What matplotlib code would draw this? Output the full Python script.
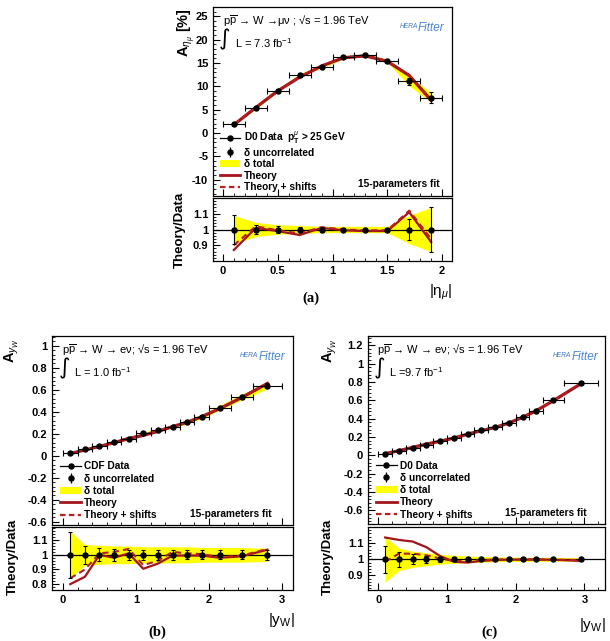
import numpy as np
import matplotlib
matplotlib.use("Agg")
import matplotlib.pyplot as plt
from matplotlib.lines import Line2D
from matplotlib.patches import Patch
from matplotlib.legend_handler import HandlerTuple
from matplotlib.ticker import MultipleLocator, AutoMinorLocator, FixedLocator

plt.rcParams['font.family'] = ['Liberation Sans', 'DejaVu Sans']
plt.rcParams['mathtext.fontset'] = 'custom'
plt.rcParams['mathtext.rm'] = 'Liberation Sans'
plt.rcParams['mathtext.it'] = 'Liberation Sans:italic'
plt.rcParams['mathtext.bf'] = 'Liberation Sans:bold'

# ---------------- data (a): D0 muon asymmetry ----------------
a_edges = [0.0, 0.2, 0.4, 0.6, 0.8, 1.0, 1.2, 1.4, 1.6, 1.8, 2.0]
a_x = [0.1, 0.3, 0.5, 0.7, 0.9, 1.1, 1.3, 1.5, 1.7, 1.9]
a_data = [2.0, 5.4, 9.1, 12.4, 14.2, 16.2, 16.7, 15.5, 11.1, 7.6]
a_theory = [0.87, 1.01, 0.99, 0.965, 1.01, 0.995, 0.99, 0.99, 1.11, 0.92]
a_shift = [0.90, 1.02, 0.995, 0.975, 1.015, 1.0, 0.995, 0.995, 1.12, 0.94]
a_unc = [0.09, 0.03, 0.02, 0.015, 0.015, 0.01, 0.01, 0.01, 0.065, 0.145]
a_tot = [0.09, 0.045, 0.03, 0.025, 0.02, 0.02, 0.02, 0.02, 0.09, 0.14]

# ---------------- data (b): CDF electron W asymmetry ----------------
b_edges = [0.0, 0.2, 0.4, 0.6, 0.8, 1.0, 1.2, 1.4, 1.6, 1.8, 2.0, 2.3, 2.6, 3.0]
b_x = [0.1, 0.3, 0.5, 0.7, 0.9, 1.1, 1.3, 1.5, 1.7, 1.9, 2.15, 2.45, 2.8]
b_data = [0.025, 0.062, 0.085, 0.122, 0.155, 0.205, 0.236, 0.266, 0.306, 0.357, 0.439, 0.536, 0.636]
b_theory = [0.80, 0.85, 1.0, 0.98, 1.01, 0.905, 0.94, 0.995, 0.995, 0.995, 0.98, 0.99, 1.035]
b_shift = [0.84, 0.90, 1.01, 1.02, 1.04, 0.93, 0.96, 1.02, 1.01, 1.005, 0.985, 0.995, 1.04]
b_unc = [0.155, 0.06, 0.045, 0.04, 0.035, 0.035, 0.035, 0.035, 0.03, 0.03, 0.03, 0.03, 0.035]
b_tot = [0.16, 0.07, 0.065, 0.06, 0.06, 0.055, 0.055, 0.055, 0.055, 0.05, 0.05, 0.05, 0.045]

# ---------------- data (c): D0 electron W asymmetry ----------------
c_edges = [0.0, 0.2, 0.4, 0.6, 0.8, 1.0, 1.2, 1.4, 1.6, 1.8, 2.0, 2.2, 2.4, 2.7, 3.2]
c_x = [0.1, 0.3, 0.5, 0.7, 0.9, 1.1, 1.3, 1.5, 1.7, 1.9, 2.1, 2.3, 2.55, 2.95]
c_data = [0.015, 0.044, 0.077, 0.113, 0.150, 0.190, 0.234, 0.271, 0.304, 0.352, 0.414, 0.487, 0.597, 0.788]
c_theory = [1.135, 1.12, 1.11, 1.075, 1.02, 0.985, 0.98, 0.99, 0.995, 0.998, 0.998, 0.998, 0.997, 0.99]
c_shift = [0.985, 1.035, 1.035, 1.025, 1.005, 0.99, 0.99, 0.995, 0.998, 1.0, 1.0, 1.0, 0.998, 0.995]
c_unc = [0.085, 0.045, 0.03, 0.02, 0.015, 0.012, 0.01, 0.008, 0.008, 0.007, 0.006, 0.006, 0.005, 0.005]
c_tot = [0.14, 0.07, 0.05, 0.04, 0.03, 0.025, 0.02, 0.018, 0.015, 0.014, 0.013, 0.012, 0.012, 0.01]

W, H = 610, 641
fig = plt.figure(figsize=(W / 100, H / 100), dpi=100)

RED = '#a3141c'
RED2 = '#b52020'
TICKFS = 8


def rect(l, t, r, b):
    return [l / W, 1 - b / H, (r - l) / W, (b - t) / H]


def style(ax, xmaj, xmin_n, ymaj, ymin_n, labels_x):
    ax.tick_params(direction='in', which='both', top=False, right=False,
                   labelsize=TICKFS)
    ax.tick_params(which='major', length=5, width=0.8)
    ax.tick_params(which='minor', length=2.5, width=0.6)
    ax.xaxis.set_major_locator(MultipleLocator(xmaj))
    ax.xaxis.set_minor_locator(AutoMinorLocator(xmin_n))
    ax.yaxis.set_major_locator(MultipleLocator(ymaj))
    ax.yaxis.set_minor_locator(AutoMinorLocator(ymin_n))
    if not labels_x:
        ax.tick_params(labelbottom=False)
    for s in ax.spines.values():
        s.set_linewidth(0.9)


def fmt(v, pos):
    return '%g' % v


def panel(main_r, ratio_r, xs, edges, data, th, sh, unc, tot, xlim, ylim, rylim,
          xmaj, xmin_n, ymaj, ymin_n, rticks, data_label, proc, lumi,
          letter, letter_xy, xl, xl_xy, yl, yl_xy, td_xy, leg_anchor, leg_sp, fit_xy):
    xs = np.array(xs); edges = np.array(edges); data = np.array(data)
    th = np.array(th); sh = np.array(sh); unc = np.array(unc); tot = np.array(tot)
    xlo = xs - edges[:-1]; xhi = edges[1:] - xs

    ax = fig.add_axes(rect(*main_r))
    ax.fill_between(xs, data * (1 - tot), data * (1 + tot), color='#ffff00', lw=0, zorder=1)
    ax.plot(xs, data * th, color=RED, lw=2.3, zorder=2)
    ax.plot(xs, data * sh, color=RED2, lw=1.5, ls=(0, (3, 2)), zorder=3)
    ax.errorbar(xs, data, xerr=[xlo, xhi], fmt='none', ecolor='k', elinewidth=0.8,
                capsize=0, zorder=4)
    ax.errorbar(xs, data, yerr=np.abs(data) * unc, fmt='o', color='k', ms=3.6,
                elinewidth=0.8, capsize=1.5, capthick=0.8, zorder=5)
    ax.errorbar(xs, data, xerr=[xlo, xhi], fmt='none', ecolor='k', elinewidth=0,
                capsize=2, capthick=0.8, zorder=4)
    ax.set_xlim(*xlim); ax.set_ylim(*ylim)
    style(ax, xmaj, xmin_n, ymaj, ymin_n, False)
    ax.yaxis.set_major_formatter(plt.FuncFormatter(fmt))
    for lab in ax.get_yticklabels():
        lab.set_fontweight('bold')

    # annotations
    ax.text(0.04, 0.97, proc, transform=ax.transAxes, fontsize=8, va='top', ha='left')
    ax.text(0.05, 0.83, '\u222b', transform=ax.transAxes, fontsize=16, va='center',
            ha='center', family=['DejaVu Sans'])
    ax.text(0.09, 0.81, lumi, transform=ax.transAxes, fontsize=8, va='center', ha='left')
    ax.text(0.78, 0.895, 'HERA', transform=ax.transAxes, fontsize=4.8, style='italic',
            color='#3f78c8', va='center', ha='left')
    ax.text(0.858, 0.89, 'Fitter', transform=ax.transAxes, fontsize=8.5, style='italic',
            color='#4a86d8', va='center', ha='left')
    ax.text(fit_xy[0], fit_xy[1], '15-parameters fit', transform=ax.transAxes,
            fontsize=7.3, fontweight='bold', ha='right', va='center')

    handles = [Line2D([], [], color='k', marker='o', ms=3.6, lw=0.9),
               (Line2D([], [], color='k', marker='|', ms=7, mew=0.9, ls='none'),
                Line2D([], [], color='k', marker='o', ms=3.6, ls='none')),
               Patch(facecolor='#ffff00', edgecolor='none'),
               Line2D([], [], color=RED, lw=2),
               Line2D([], [], color=RED2, lw=1.6, ls=(0, (2.5, 1.5)))]
    labels = [data_label, '\u03b4 uncorrelated', '\u03b4 total', 'Theory', 'Theory + shifts']
    ax.legend(handles, labels, loc='upper left', bbox_to_anchor=leg_anchor,
              frameon=False, handlelength=2.0, handletextpad=0.35,
              labelspacing=leg_sp, borderpad=0, borderaxespad=0,
              handler_map={tuple: HandlerTuple(ndivide=1)},
              prop={'weight': 'bold', 'size': 7.3})

    rx = fig.add_axes(rect(*ratio_r))
    rx.fill_between(xs, 1 - tot, 1 + tot, color='#ffff00', lw=0, zorder=1)
    rx.axhline(1.0, color='k', lw=0.9, zorder=2)
    rx.plot(xs, th, color=RED, lw=1.6, zorder=3)
    rx.plot(xs, sh, color=RED2, lw=1.5, ls=(0, (3, 2)), zorder=3)
    rx.errorbar(xs, np.ones_like(xs), yerr=unc, fmt='o', color='k', ms=3.6,
                elinewidth=0.8, capsize=1.5, capthick=0.8, zorder=5)
    rx.set_xlim(*xlim); rx.set_ylim(*rylim)
    style(rx, xmaj, xmin_n, 0.1, 5, True)
    rx.yaxis.set_major_locator(FixedLocator(rticks))
    rx.yaxis.set_minor_locator(MultipleLocator(0.02))
    rx.xaxis.set_major_formatter(plt.FuncFormatter(fmt))
    rx.yaxis.set_major_formatter(plt.FuncFormatter(fmt))
    for lab in rx.get_xticklabels() + rx.get_yticklabels():
        lab.set_fontweight('bold')

    fig.text(letter_xy[0] / W, 1 - letter_xy[1] / H, letter, fontsize=10.5,
             fontweight='bold', family=['Liberation Serif'], ha='center', va='center')
    fig.text(xl_xy[0] / W, 1 - xl_xy[1] / H, xl, fontsize=11, ha='center', va='center')
    fig.text(yl_xy[0] / W, 1 - yl_xy[1] / H, yl, fontsize=10.5, rotation=90,
             ha='center', va='top', fontweight='bold')
    fig.text(td_xy[0] / W, 1 - td_xy[1] / H, 'Theory/Data', fontsize=9.5, rotation=90,
             ha='center', va='center', fontweight='bold')


panel((213, 7, 452, 196), (213, 198, 452, 261), a_x, a_edges, a_data, a_theory,
      a_shift, a_unc, a_tot, (-0.09, 2.09), (-13.5, 27), (0.8, 1.2),
      0.5, 5, 5, 5, [0.9, 1.0, 1.1],
      'D0 Data  $\\mathbf{p}_\\mathbf{T}^{\\mu}$ > 25 GeV',
      'p$\\overline{\\mathrm{p}}$ \u2192 W \u2192\u03bc\u03bd ; \u221as = 1.96 TeV',
      'L = 7.3 fb$^{-1}$', '(a)', (311, 298), '|\u03b7$_\\mu$|', (441, 292),
      'A$_{\\eta_\\mu}$ [%]', (186, 8), (180, 230), (0.03, 0.35), 0.15, (0.95, 0.063))

panel((52, 336, 293, 525), (52, 527, 293, 590), b_x, b_edges, b_data, b_theory,
      b_shift, b_unc, b_tot, (-0.15, 3.15), (-0.63, 1.09), (0.76, 1.19),
      1, 5, 0.2, 5, [0.8, 0.9, 1.0, 1.1],
      'CDF Data',
      'p$\\overline{\\mathrm{p}}$ \u2192 W \u2192 e\u03bd; \u221as = 1.96 TeV',
      'L = 1.0 fb$^{-1}$', '(b)', (157, 632), '|y$_\\mathrm{W}$|', (281, 620),
      'A$_{y_W}$', (12, 338), (13, 557), (0.035, 0.337), 0.22, (0.913, 0.058))

panel((368, 336, 605, 524), (368, 527, 605, 590), c_x, c_edges, c_data, c_theory,
      c_shift, c_unc, c_tot, (-0.15, 3.3), (-0.75, 1.3), (0.81, 1.2),
      1, 5, 0.2, 5, [0.9, 1.0, 1.1],
      'D0 Data',
      'p$\\overline{\\mathrm{p}}$ \u2192 W \u2192 e\u03bd; \u221as = 1.96 TeV',
      'L =9.7 fb$^{-1}$', '(c)', (489, 632), '|y$_\\mathrm{W}$|', (592, 625),
      'A$_{y_W}$', (330, 338), (328, 557), (0.035, 0.337), 0.22, (0.924, 0.058))

fig.savefig('out.png', dpi=100)
